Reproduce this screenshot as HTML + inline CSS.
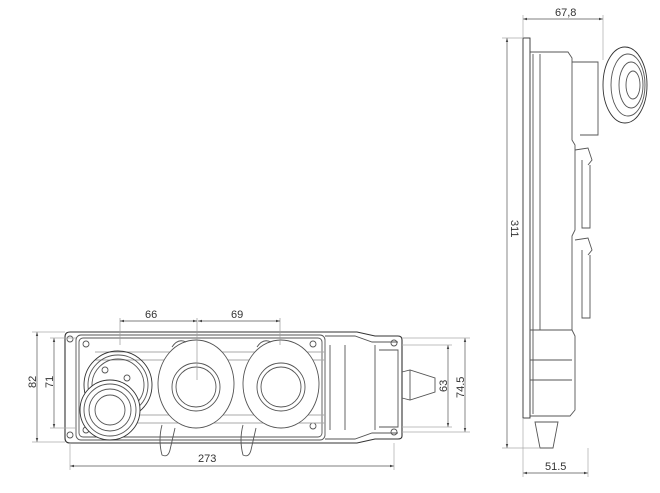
<!DOCTYPE html>
<html><head><meta charset="utf-8"><style>
html,body{margin:0;padding:0;background:#fff}
svg{display:block}
text{font-family:"Liberation Sans",sans-serif;font-size:11px;fill:#333}
</style></head><body>
<svg width="660" height="493" viewBox="0 0 660 493" xmlns="http://www.w3.org/2000/svg">
<defs>
<marker id="a" viewBox="0 0 10 10" refX="10" refY="5" markerWidth="6" markerHeight="6" orient="auto-start-reverse"><path d="M0,2 L10,5 L0,8z" fill="#444"/></marker>
</defs>
<g fill="none" stroke="#555" stroke-width="0.9">
<path d="M70,332 H357 L375,336 H398 Q402,336 402,340 V436 Q402,439 398,439 H375 L357,443 H70 Q65,443 65,438 V337 Q65,332 70,332Z" stroke="#333" stroke-width="1.1"/>
<rect x="76" y="335" width="249" height="105" rx="5"/>
<rect x="79" y="338" width="243" height="99" rx="4"/>
<path d="M325,336 H355 L372,342 H398 M325,439 H355 L372,433 H398"/>
<path d="M330,345 V430 M345,345 V430 M375,345 V430"/>
<path d="M379,350 H398 V427 H379"/>
<circle cx="70" cy="339" r="3"/><circle cx="70" cy="435" r="3"/><circle cx="394" cy="343" r="3"/><circle cx="394" cy="432" r="3"/>
<circle cx="86" cy="344" r="3"/><circle cx="313" cy="344" r="3"/><circle cx="313" cy="426" r="3"/><circle cx="86" cy="430" r="3"/>
<path d="M95,352 H325 M95,423 H325 M95,360 H325 M95,415 H325" stroke="#aaa"/>
<circle cx="118" cy="385" r="34" stroke="#333"/><circle cx="118" cy="385" r="30"/><circle cx="118" cy="385" r="26"/>
<circle cx="127" cy="378" r="3"/><circle cx="105" cy="370" r="3"/>
<circle cx="110" cy="410" r="30" fill="#fff" stroke="#333"/><circle cx="110" cy="410" r="26"/><circle cx="110" cy="410" r="21"/><circle cx="110" cy="410" r="15"/>
<ellipse cx="196" cy="384" rx="38" ry="44" fill="#fff"/><circle cx="196" cy="387" r="24"/><circle cx="196" cy="387" r="20"/>
<ellipse cx="281" cy="384" rx="38" ry="44" fill="#fff"/><circle cx="281" cy="387" r="24"/><circle cx="281" cy="387" r="20"/>
<path d="M172,347 Q178,338 186,342 M257,347 Q263,338 271,342"/>
<path d="M162,425 Q158,440 162,455 Q168,458 170,450 L175,428 M243,425 Q239,440 243,455 Q249,458 251,450 L256,428"/>
<path d="M402,372 L410,370 L435,378 V392 L410,400 L402,398 M410,370 V400"/>
<rect x="523" y="38" width="7" height="380" stroke="#333"/>
<path d="M530,52 H568 L572,58 V140 L575,145 V230 L572,236 V330 L575,336 V410 L570,416 H530"/>
<path d="M533,54 V414 M540,54 V330" />
<path d="M530,330 H572 M530,360 H572 M530,380 H572"/>
<path d="M572,62 H598 V135 H580 M575,150 L588,148 L592,160 L588,165 M582,160 V228 H590 V165 M575,240 L588,238 L592,250 L588,255 M582,250 V318 H590 V255"/>
<ellipse cx="625" cy="85" rx="22" ry="38" fill="#fff" stroke="#333"/><ellipse cx="628" cy="85" rx="17" ry="31"/><ellipse cx="631" cy="85" rx="12" ry="23"/><ellipse cx="633" cy="85" rx="7" ry="14"/>
<path d="M535,422 H558 L553,448 H540Z"/>
</g>
<g stroke="#555" stroke-width="0.7" fill="none">
<path d="M120,318 V345 M197,318 V380 M280,318 V345" stroke="#999"/>
<line x1="120" y1="321" x2="197" y2="321" marker-start="url(#a)" marker-end="url(#a)"/>
<line x1="198" y1="321" x2="280" y2="321" marker-start="url(#a)" marker-end="url(#a)"/>
<line x1="37" y1="332" x2="37" y2="442" marker-start="url(#a)" marker-end="url(#a)"/>
<line x1="54" y1="338" x2="54" y2="428" marker-start="url(#a)" marker-end="url(#a)"/>
<line x1="70" y1="466" x2="394" y2="466" marker-start="url(#a)" marker-end="url(#a)"/>
<line x1="448" y1="345" x2="448" y2="427" marker-start="url(#a)" marker-end="url(#a)"/>
<line x1="465" y1="338" x2="465" y2="432" marker-start="url(#a)" marker-end="url(#a)"/>
<line x1="523" y1="19" x2="603" y2="19" marker-start="url(#a)" marker-end="url(#a)"/>
<line x1="507" y1="38" x2="507" y2="448" marker-start="url(#a)" marker-end="url(#a)"/>
<line x1="523" y1="473" x2="588" y2="473" marker-start="url(#a)" marker-end="url(#a)"/>
<path d="M32,332 H65 M32,442 H65 M50,338 H76 M50,428 H76 M70,443 V470 M394,443 V470 M402,345 H452 M402,427 H452 M402,338 H470 M402,432 H470 M523,15 V38 M603,15 V60 M502,38 H523 M502,448 H540 M523,418 V477 M588,448 V477" stroke="#aaa"/>
</g>
<g>
<text x="145" y="318">66</text><text x="231" y="318">69</text>
<text x="198" y="462">273</text>
<text transform="translate(36,388) rotate(-90)">82</text>
<text transform="translate(53,388) rotate(-90)">71</text>
<text transform="translate(447,392) rotate(-90)">63</text>
<text transform="translate(464,398) rotate(-90)">74.5</text>
<text x="555" y="16">67,8</text>
<text transform="translate(511,220) rotate(90)">311</text>
<text x="545" y="470">51.5</text>
</g>
</svg>
</body></html>
